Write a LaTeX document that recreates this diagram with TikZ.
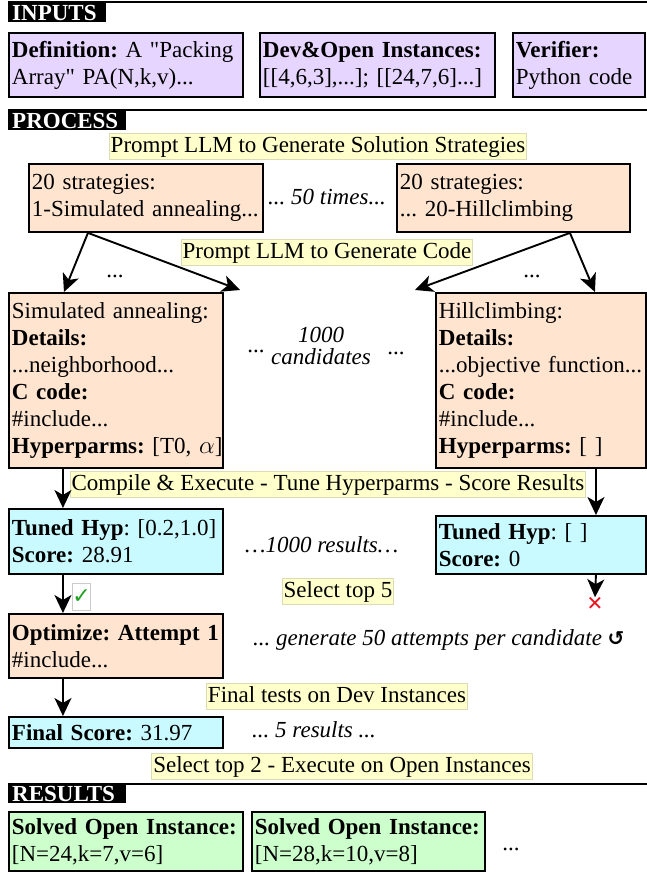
\documentclass[tikz,border=0pt]{standalone}
\usepackage{fontspec}
\setmainfont{Liberation Serif}
\newfontfamily\symfont{DejaVu Sans}
\usepackage{tikz}
\usetikzlibrary{arrows.meta, positioning, calc}
\frenchspacing

\definecolor{inpurple}{HTML}{E6D6FF}
\definecolor{peach}{HTML}{FFE5D0}
\definecolor{scorecyan}{HTML}{C8FAFF}
\definecolor{solvedgreen}{HTML}{CCFFCC}
\definecolor{stagefill}{HTML}{FFFFCC}
\definecolor{stageline}{HTML}{DCDCB4}
\definecolor{passgreen}{HTML}{1FA01F}
\definecolor{failred}{HTML}{E8141E}

\newcommand{\diagfont}{\fontsize{23}{27}\selectfont}

\tikzset{
  box/.style    = {rectangle, draw=black, line width=1.9pt, anchor=north west,
                   align=left, inner xsep=3pt, inner ysep=2pt, font=\diagfont},
  inp/.style    = {box, fill=inpurple},
  cand/.style   = {box, fill=peach},
  score/.style  = {box, fill=scorecyan},
  solved/.style = {box, fill=solvedgreen},
  sect/.style   = {rectangle, fill=black, text=white, anchor=north west, align=left,
                   inner xsep=4pt, inner ysep=1pt, text height=16pt, text depth=1pt,
                   font=\diagfont\bfseries},
  stage/.style  = {rectangle, fill=stagefill, draw=stageline, line width=0.8pt,
                   inner xsep=1.5pt, inner ysep=1pt, text height=18pt, text depth=6pt,
                   font=\diagfont},
  note/.style   = {font=\diagfont\itshape, inner sep=0pt},
  dots/.style   = {font=\diagfont, inner sep=0pt, anchor=base},
  rule/.style   = {draw=black, line width=1.8pt},
  fl/.style     = {-{Stealth[length=18pt, width=17pt, inset=5pt]}, draw=black, line width=1.9pt},
}

\begin{document}
\begin{tikzpicture}[x=1pt, y=-1pt]
  \useasboundingbox (0,0) rectangle (647,872);

  % inputs
  \draw[rule] (8,2) -- (647,2);
  \node[sect, text width=90pt] (inLbl) at (8,3) {INPUTS};
  \node[inp, text width=228pt, minimum height=64pt] (defn) at (8,32)
    {\textbf{Definition:} A \textquotedbl Packing\\Array\textquotedbl{} PA(N,k,v)...};
  \node[inp, text width=229pt, minimum height=64pt] (inst) at (259,32)
    {\textbf{Dev\&Open Instances:}\\{}[[4,6,3],...]; [[24,7,6]...]};
  \node[inp, text width=126pt, minimum height=64pt] (verif) at (512,32)
    {\textbf{Verifier:}\\Python code};

  % process
  \draw[rule] (8,110) -- (647,110);
  \node[sect, text width=110pt] (procLbl) at (8,111) {PROCESS};
  \node[stage] (genStrat) at (318,146) {Prompt LLM to Generate Solution Strategies};
  \node[cand, text width=228pt, minimum height=68pt] (stratA) at (28,163)
    {20 strategies:\\1-Simulated annealing...};
  \node[cand, text width=227pt, minimum height=68pt] (stratB) at (396,163)
    {20 strategies:\\... 20-Hillclimbing};
  \node[note, anchor=west] (times) at (268,197) {... 50 times...};

  \node[stage] (genCode) at (327,252) {Prompt LLM to Generate Code};
  \node[dots] (dotsA) at (115,277) {...};
  \node[dots] (dotsB) at (532,277) {...};

  \node[cand, text width=208pt, minimum height=175pt] (candA) at (8,292)
    {Simulated annealing:\\\textbf{Details:}\\...neighborhood...\\\textbf{C code:}\\\#include...\\\mbox{\textbf{Hyperparms:} [T0, $\alpha$]}};
  \node[cand, text width=204pt, minimum height=175pt] (candB) at (435,292)
    {Hillclimbing:\\\textbf{Details:}\\...objective function...\\\textbf{C code:}\\\#include...\\\textbf{Hyperparms:} [ ]};
  \node[note, align=center, font=\fontsize{23}{22}\selectfont\itshape] (cands) at (321,346) {1000\\candidates};
  \node[dots] (dotsL) at (256,352) {...};
  \node[dots] (dotsR) at (396,354) {...};

  \node[stage] (tune) at (328,484) {Compile \& Execute - Tune Hyperparms - Score Results};
  \node[score, text width=208pt, minimum height=65pt] (tunedA) at (8,508)
    {\textbf{Tuned Hyp}: [0.2,1.0]\\\textbf{Score:} 28.91};
  \node[score, text width=204pt, minimum height=58pt] (tunedB) at (435,515)
    {\textbf{Tuned Hyp}: [ ]\\\textbf{Score:} 0};
  \node[note, anchor=west] (results) at (245,545) {\ldots1000 results\ldots};

  \node[stage] (top5) at (338,591) {Select top 5};
  \node[draw=black!20, line width=0.8pt, fill=white, minimum width=15pt, minimum height=27pt,
        inner sep=0pt, text=passgreen, font=\symfont\bfseries\fontsize{22}{22}\selectfont] (pass) at (81.5,596.5) {✓};
  \node[text=failred, inner sep=0pt, font=\symfont\bfseries\fontsize{20}{20}\selectfont] (fail) at (595,604) {✕};

  \node[cand, text width=208pt, minimum height=64pt] (opt) at (8,613)
    {\textbf{Optimize: Attempt 1}\\\#include...};
  \node[note, anchor=west] (attempts) at (253,640)
    {... generate 50 attempts per candidate {\upshape\symfont\bfseries\fontsize{20}{20}\selectfont ↺}};

  \node[stage] (devTest) at (337,696) {Final tests on Dev Instances};
  \node[score, text width=208pt, minimum height=31pt] (final) at (8,716)
    {\textbf{Final Score:} 31.97};
  \node[note, anchor=west] (five) at (252,730) {... 5 results ...};
  \node[stage] (top2) at (342,766) {Select top 2 - Execute on Open Instances};

  % results
  \draw[rule] (8,784) -- (647,784);
  \node[sect, text width=110pt] (resLbl) at (8,784) {RESULTS};
  \node[solved, text width=228pt, minimum height=59pt] (solA) at (8,811)
    {\textbf{Solved Open Instance:}\\{}[N=24,k=7,v=6]};
  \node[solved, text width=227pt, minimum height=59pt] (solB) at (251,811)
    {\textbf{Solved Open Instance:}\\{}[N=28,k=10,v=8]};
  \node[dots] (more) at (511,850) {...};

  % connectors
  \coordinate (gapA) at (240,290);
  \coordinate (gapB) at (415,290);
  \draw[fl] ([xshift=-58pt]stratA.south) -- ([xshift=-52pt]candA.north);
  \draw[fl] ([xshift=-58pt]stratA.south) -- (gapA);
  \draw[fl] ([xshift=56.5pt]stratB.south) -- (gapB);
  \draw[fl] ([xshift=56.5pt]stratB.south) -- ([xshift=54pt]candB.north);

  \draw[fl] ([xshift=-53pt]candA.south) -- ([xshift=-53pt]tunedA.north);
  \draw[fl] ([xshift=55pt]candB.south) -- ([xshift=55pt]tunedB.north);
  \draw[fl] ([xshift=-53pt]tunedA.south) -- ([xshift=-53pt]opt.north);
  \draw[fl] ([xshift=55pt]tunedB.south) -- (fail.north);
  \draw[fl] ([xshift=-53pt]opt.south) -- ([xshift=-53pt]final.north);
\end{tikzpicture}
\end{document}
